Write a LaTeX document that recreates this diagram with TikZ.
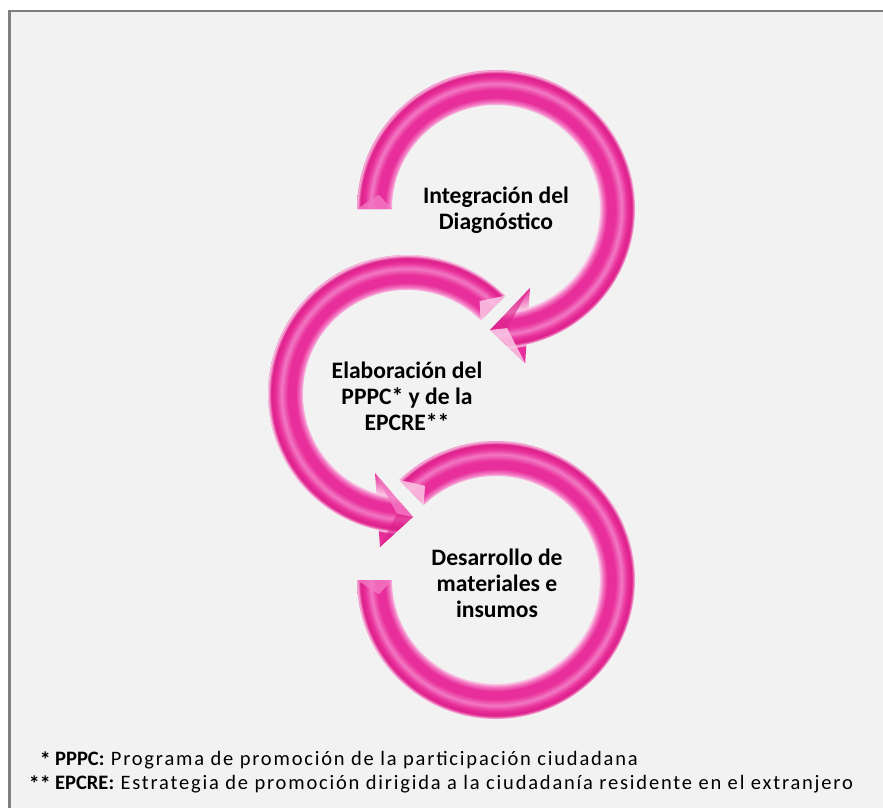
\documentclass[tikz,border=0pt]{standalone}
\usepackage{fontspec}
\setmainfont{Carlito}
\newfontfamily\legfont[LetterSpace=8.8]{Carlito}
\usetikzlibrary{calc}
\definecolor{bgc}{RGB}{242,242,242}
\definecolor{frm}{RGB}{127,127,127}
\definecolor{pk}{RGB}{232,46,154}
\definecolor{pkl}{RGB}{250,200,230}
\definecolor{pkm}{RGB}{242,120,194}
\definecolor{pkd}{RGB}{220,32,138}
\pgfdeclareradialshading{tube}{\pgfpoint{0bp}{0bp}}{%
 color(0bp)=(pk); color(13.4bp)=(pk); color(16.25bp)=(pkl); color(16.7bp)=(pkm);
 color(17.4bp)=(pk); color(18.6bp)=(pk); color(19.6bp)=(pkm); color(20.5bp)=(pk);
 color(21.2bp)=(pkd); color(21.72bp)=(pkl); color(21.9bp)=(pk); color(50bp)=(pk)}
\tikzset{
 lbl/.style={font=\fontsize{23.6}{26}\selectfont\bfseries, align=center, text=black, inner sep=0pt},
 leg/.style={font=\fontsize{20.5}{24}\selectfont, inner sep=0pt, anchor=base west},
 star/.style={font=\fontsize{22}{24}\selectfont\bfseries, inner sep=0pt, anchor=base east},
 bevl/.style={fill=pkl, fill opacity=0.85},
 bevm/.style={fill=pkm, fill opacity=0.8},
}
\begin{document}
\begin{tikzpicture}[x=1pt,y=1pt]
\useasboundingbox (0,0) rectangle (883,-808);
\fill[white] (0,0) rectangle (883,-808);
\fill[bgc] (9.3,-11.2) rectangle (883,-808);
\draw[frm, line width=2.5pt] (9.3,-808) -- (9.3,-11.2) -- (883,-11.2);

\coordinate (c1) at (496,-209);
\coordinate (c2) at (407,-394);
\coordinate (c3) at (496,-580);
% heads
\coordinate (t1) at (490.1,-329.9);
\coordinate (ho1) at (525.2,-363.3);
\coordinate (hi1) at (530,-288);
\coordinate (m1) at (507,-328);
\coordinate (t2) at (413,-517);
\coordinate (ho2) at (380,-547);
\coordinate (hi2) at (375,-473);
\coordinate (m2) at (397,-513.8);

% arrow 3 (no head)
\begin{scope}
\clip ($(c3)+(180:139)$) arc[start angle=180, end angle=494, radius=139]
 -- ($(c3)+(134:104)$) arc[start angle=134, end angle=-180, radius=104] -- cycle;
\shade[shading=tube] (c3) circle (160);
\path[bevl] ($(c3)+(134:104)$) -- ($(c3)+(134:139)$) -- ($(c3)+(127:118)$) -- cycle;
\path[bevm] ($(c3)+(180:104)$) -- ($(c3)+(180:139)$) -- ($(c3)+(187:118)$) -- cycle;
\end{scope}

% arrow 2
\begin{scope}
\clip ($(c2)+(45:139)$) arc[start angle=45, end angle=258.3, radius=139]
 -- (ho2) -- (t2) -- (hi2) -- ($(c2)+(252.9:104)$)
 arc[start angle=252.9, end angle=45, radius=104] -- cycle;
\shade[shading=tube] (c2) circle (160);
\path[bevl] ($(c2)+(45:104)$) -- ($(c2)+(45:139)$) -- ($(c2)+(52:118)$) -- cycle;
\path[bevm] (t2) -- (hi2) -- (m2) -- cycle;
\path[fill=pkd, fill opacity=0.6] (t2) -- (ho2) -- (m2) -- cycle;
\end{scope}

% arrow 1
\begin{scope}
\clip ($(c1)+(180:139)$) arc[start angle=180, end angle=-77.4, radius=139]
 -- (ho1) -- (t1) -- (hi1) -- ($(c1)+(-71.7:104)$)
 arc[start angle=-71.7, end angle=180, radius=104] -- cycle;
\shade[shading=tube] (c1) circle (160);
\path[bevm] ($(c1)+(180:104)$) -- ($(c1)+(180:139)$) -- ($(c1)+(173:118)$) -- cycle;
\path[bevl] (t1) -- (ho1) -- (m1) -- cycle;
\path[fill=pkd, fill opacity=0.6] (t1) -- (hi1) -- (m1) -- cycle;
\end{scope}

\node[lbl] (n1) at (496,-210) {Integración del\\Diagnóstico};
\node[lbl] (n2) at (407,-396) {Elaboración del\\PPPC* y de la\\EPCRE**};
\node[lbl] (n3) at (497,-583) {Desarrollo de\\materiales e\\insumos};

\node[star] (s1) at (51,-767) {*};
\node[leg] (l1) at (55,-765) {\textbf{PPPC:}\legfont{} Programa de promoción de la participación ciudadana};
\node[star] (s2) at (51,-791.3) {**};
\node[leg] (l2) at (55,-789.3) {\textbf{EPCRE:}\legfont{} Estrategia de promoción dirigida a la ciudadanía residente en el extranjero};
\end{tikzpicture}
\end{document}
